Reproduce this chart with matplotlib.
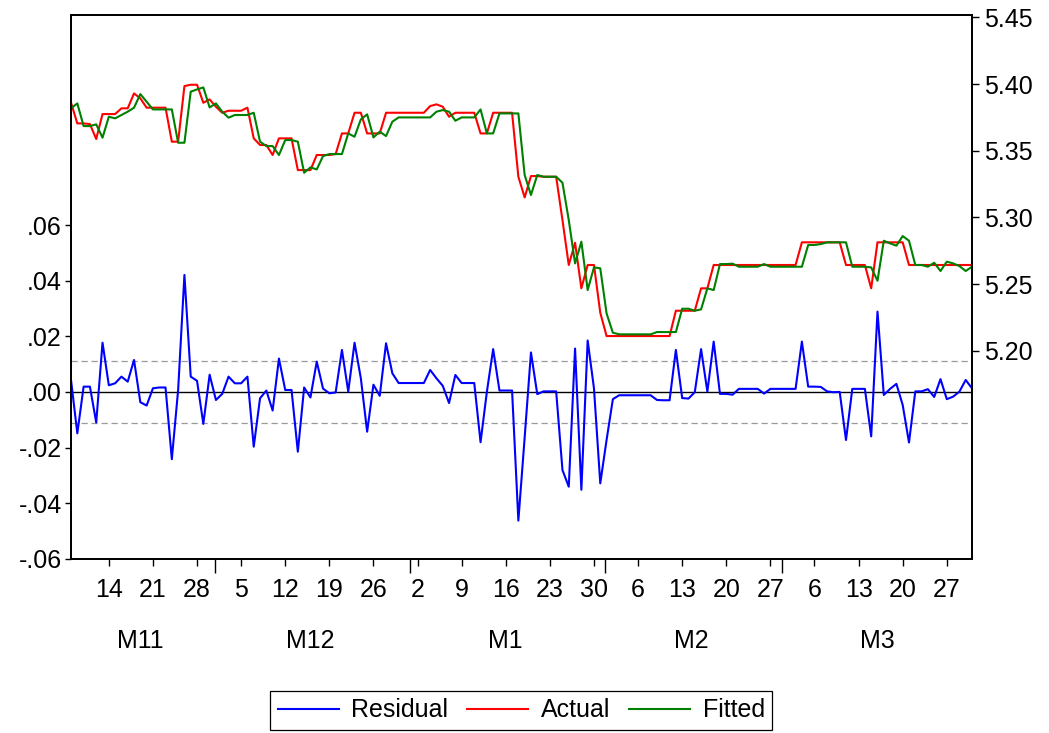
import matplotlib
matplotlib.use("Agg")
import matplotlib.pyplot as plt
import pandas as pd

plt.rcParams['font.family'] = ['Liberation Sans', 'DejaVu Sans']
plt.rcParams['font.size'] = 18

# Daily observations, 8 Nov 2022 - 31 Mar 2023
dates = pd.date_range("2022-11-08", "2023-03-31", freq="D")

actual = [
    5.3860, 5.3705, 5.3705, 5.3700, 5.3588, 5.3775, 5.3775, 5.3775, 5.3818, 5.3818,
    5.3930, 5.3893, 5.3823, 5.3823, 5.3823, 5.3823, 5.3568, 5.3568, 5.3985, 5.3995,
    5.3995, 5.3860, 5.3885, 5.3830, 5.3785, 5.3800, 5.3800, 5.3800, 5.3823, 5.3593,
    5.3543, 5.3543, 5.3468, 5.3593, 5.3593, 5.3593, 5.3355, 5.3355, 5.3355, 5.3468,
    5.3468, 5.3468, 5.3475, 5.3630, 5.3630, 5.3785, 5.3785, 5.3630, 5.3630, 5.3630,
    5.3785, 5.3785, 5.3785, 5.3785, 5.3785, 5.3785, 5.3785, 5.3835, 5.3848, 5.3830,
    5.3755, 5.3785, 5.3785, 5.3785, 5.3785, 5.3630, 5.3630, 5.3785, 5.3785, 5.3785,
    5.3785, 5.3305, 5.3150, 5.3310, 5.3310, 5.3305, 5.3305, 5.3305, 5.2980, 5.2643,
    5.2810, 5.2468, 5.2643, 5.2643, 5.2285, 5.2110, 5.2110, 5.2110, 5.2110, 5.2110,
    5.2110, 5.2110, 5.2110, 5.2110, 5.2110, 5.2110, 5.2300, 5.2300, 5.2300, 5.2300,
    5.2468, 5.2468, 5.2643, 5.2643, 5.2643, 5.2643, 5.2643, 5.2643, 5.2643, 5.2643,
    5.2643, 5.2643, 5.2643, 5.2643, 5.2643, 5.2643, 5.2813, 5.2813, 5.2813, 5.2813,
    5.2813, 5.2813, 5.2813, 5.2643, 5.2643, 5.2643, 5.2643, 5.2468, 5.2813, 5.2813,
    5.2813, 5.2813, 5.2813, 5.2643, 5.2643, 5.2643, 5.2643, 5.2643, 5.2643, 5.2643,
    5.2643, 5.2643, 5.2643, 5.2643,
]

fitted = [
    5.3818, 5.3855, 5.3685, 5.3685, 5.3698, 5.3598, 5.3755, 5.3743, 5.3768, 5.3793,
    5.3823, 5.3925, 5.3868, 5.3810, 5.3810, 5.3810, 5.3810, 5.3560, 5.3560, 5.3943,
    5.3960, 5.3975, 5.3825, 5.3855, 5.3793, 5.3748, 5.3768, 5.3768, 5.3768, 5.3785,
    5.3568, 5.3535, 5.3535, 5.3468, 5.3580, 5.3580, 5.3568, 5.3335, 5.3375, 5.3360,
    5.3460, 5.3475, 5.3475, 5.3475, 5.3630, 5.3605, 5.3735, 5.3773, 5.3600, 5.3643,
    5.3610, 5.3718, 5.3750, 5.3750, 5.3750, 5.3750, 5.3750, 5.3750, 5.3793, 5.3805,
    5.3793, 5.3725, 5.3750, 5.3750, 5.3750, 5.3810, 5.3630, 5.3630, 5.3780, 5.3780,
    5.3780, 5.3780, 5.3318, 5.3168, 5.3318, 5.3305, 5.3305, 5.3305, 5.3260, 5.2980,
    5.2655, 5.2818, 5.2455, 5.2625, 5.2618, 5.2280, 5.2135, 5.2123, 5.2123, 5.2123,
    5.2123, 5.2123, 5.2123, 5.2140, 5.2140, 5.2140, 5.2140, 5.2315, 5.2315, 5.2300,
    5.2310, 5.2468, 5.2455, 5.2650, 5.2650, 5.2653, 5.2630, 5.2630, 5.2630, 5.2630,
    5.2650, 5.2630, 5.2630, 5.2630, 5.2630, 5.2630, 5.2630, 5.2793, 5.2793, 5.2800,
    5.2813, 5.2813, 5.2813, 5.2813, 5.2630, 5.2630, 5.2630, 5.2625, 5.2525, 5.2825,
    5.2805, 5.2788, 5.2860, 5.2825, 5.2643, 5.2643, 5.2630, 5.2660, 5.2598, 5.2668,
    5.2655, 5.2635, 5.2598, 5.2630,
]

residual = [
    0.0043, -0.0149, 0.0019, 0.0019, -0.0110, 0.0177, 0.0024, 0.0031, 0.0055, 0.0037,
    0.0115, -0.0037, -0.0049, 0.0013, 0.0016, 0.0016, -0.0242, 0.0007, 0.0421, 0.0055,
    0.0040, -0.0115, 0.0062, -0.0029, -0.0007, 0.0055, 0.0031, 0.0031, 0.0055, -0.0197,
    -0.0023, 0.0005, -0.0067, 0.0120, 0.0007, 0.0007, -0.0215, 0.0016, -0.0020, 0.0109,
    0.0012, -0.0005, -0.0002, 0.0151, 0.0001, 0.0177, 0.0049, -0.0143, 0.0026, -0.0014,
    0.0175, 0.0067, 0.0032, 0.0032, 0.0032, 0.0032, 0.0032, 0.0079, 0.0049, 0.0022,
    -0.0040, 0.0061, 0.0032, 0.0032, 0.0032, -0.0181, 0.0000, 0.0154, 0.0005, 0.0005,
    0.0005, -0.0463, -0.0164, 0.0142, -0.0008, 0.0002, 0.0002, 0.0002, -0.0281, -0.0341,
    0.0156, -0.0352, 0.0185, 0.0013, -0.0329, -0.0173, -0.0026, -0.0012, -0.0012, -0.0012,
    -0.0012, -0.0012, -0.0012, -0.0029, -0.0030, -0.0030, 0.0151, -0.0022, -0.0024, -0.0001,
    0.0154, 0.0001, 0.0181, -0.0007, -0.0007, -0.0010, 0.0011, 0.0011, 0.0011, 0.0011,
    -0.0006, 0.0011, 0.0011, 0.0011, 0.0011, 0.0011, 0.0181, 0.0019, 0.0019, 0.0018,
    0.0002, -0.0001, 0.0000, -0.0173, 0.0011, 0.0011, 0.0011, -0.0160, 0.0289, -0.0011,
    0.0011, 0.0029, -0.0047, -0.0182, 0.0002, 0.0002, 0.0010, -0.0018, 0.0046, -0.0026,
    -0.0017, 0.0001, 0.0043, 0.0013,
]

# standard error of the regression, drawn as +/- band around zero
se_band = 0.0113

resid_ticks = [-0.06, -0.04, -0.02, 0.00, 0.02, 0.04, 0.06]
resid_tick_labels = ["-.06", "-.04", "-.02", ".00", ".02", ".04", ".06"]
level_ticks = [5.20, 5.25, 5.30, 5.35, 5.40, 5.45]
level_tick_labels = ["5.20", "5.25", "5.30", "5.35", "5.40", "5.45"]
month_labels = ["M11", "M12", "M1", "M2", "M3"]

assert len(actual) == len(fitted) == len(residual) == len(dates)

pos = list(range(len(dates)))

fig = plt.figure(figsize=(10.49, 7.33), dpi=100)
ax = fig.add_axes([0.0677, 0.2378, 0.8589, 0.7417])
ax2 = ax.twinx()

# residual panel (left scale)
ax.axhline(0.0, color="black", lw=1.0, zorder=1)
for s in (se_band, -se_band):
    ax.axhline(s, color="#9a9a9a", lw=0.9, ls=(0, (5, 3)), zorder=1)
l_res, = ax.plot(pos, residual, color="#0000FF", lw=1.5, zorder=3)
ax.set_ylim(-0.06, 0.1356)
ax.set_yticks(resid_ticks)
ax.set_yticklabels(resid_tick_labels)

# actual and fitted (right scale)
l_act, = ax2.plot(pos, actual, color="#FF0000", lw=1.5)
l_fit, = ax2.plot(pos, fitted, color="#008000", lw=1.5)
ax2.set_ylim(5.044, 5.4518)
ax2.set_yticks(level_ticks)
ax2.set_yticklabels(level_tick_labels)

ax.set_xlim(0, len(dates) - 1)

# weekly ticks on Mondays, longer ticks at month boundaries
week_pos = [i for i, d in enumerate(dates) if d.weekday() == 0 and i > 0]
week_lab = [str(dates[i].day) for i in week_pos]
ax.set_xticks(week_pos)
ax.set_xticklabels(week_lab)
month_start = [i for i, d in enumerate(dates) if d.day == 1]
ax.set_xticks([i - 0.2 for i in month_start], minor=True)

ax.tick_params(axis="x", which="major", length=5, width=1.0, pad=9, direction="out")
ax.tick_params(axis="x", which="minor", length=10, width=1.0, direction="out")
ax.tick_params(axis="y", length=4.5, width=1.0, pad=2)
ax2.tick_params(axis="y", length=5, width=1.0, pad=4)

for a in (ax, ax2):
    for sp in a.spines.values():
        sp.set_linewidth(1.3)
        sp.set_color("black")

# month names under the day numbers
months = pd.Series(pos, index=dates).groupby(dates.month, sort=False)
for name, (_, grp) in zip(month_labels, months):
    centre = (grp.iloc[0] + grp.iloc[-1]) / 2
    ax.annotate(name, xy=(centre, 0), xycoords=("data", "axes fraction"),
                xytext=(0, -59), textcoords="offset points",
                ha="center", va="center", fontsize=18)

leg = fig.legend([l_res, l_act, l_fit], ["Residual", "Actual", "Fitted"],
                 loc="center", bbox_to_anchor=(0.497, 0.031), ncol=3,
                 frameon=True, fancybox=False, framealpha=1, edgecolor="black",
                 fontsize=18, handlelength=2.45, handletextpad=0.5,
                 columnspacing=0.75, borderpad=0.3)
leg.get_frame().set_linewidth(0.9)

fig.savefig("out.png", dpi=100)
